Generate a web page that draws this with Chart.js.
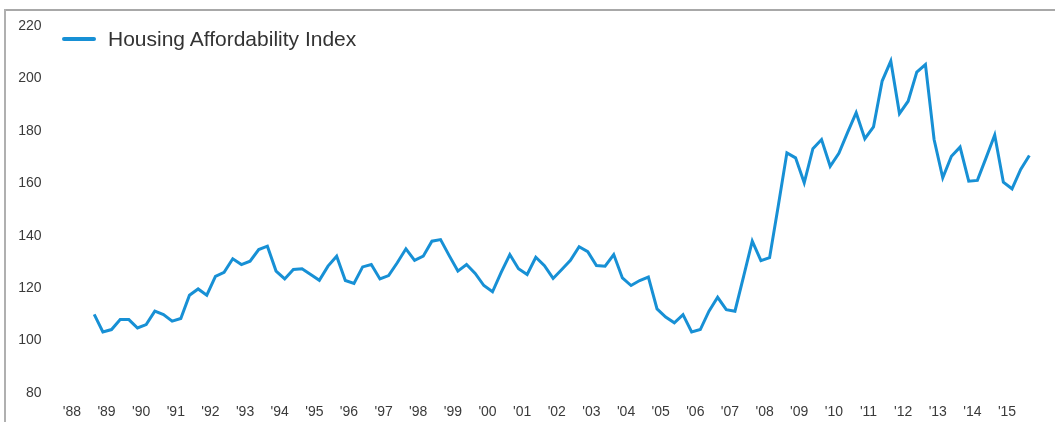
<!DOCTYPE html>
<html>
<head>
<meta charset="utf-8">
<script src="https://cdn.jsdelivr.net/npm/chart.js@4"></script>
<style>
    body { margin: 0; background: #fff; }
    #wrap { position: relative; width: 1055px; height: 422px; overflow: hidden; }
    #chart { position: absolute; left: 0; top: 0; }
    .frameTop { position: absolute; left: 5px; top: 9px; right: 0; height: 2px; background: #a8a8a8; }
    .frameLeft { position: absolute; left: 4px; top: 9px; bottom: 0; width: 2px; background: #b0b0b0; }
    #legend { position: absolute; left: 62px; top: 27px; display: flex; align-items: center;
              font-family: "Liberation Sans", Arial, sans-serif; font-size: 21px; color: #333; }
    #legend .swatch { width: 34px; height: 4px; border-radius: 2px; margin-right: 12px; }
</style>
</head>
<body>
<div id="wrap">
    <canvas id="chart" width="1055" height="422"></canvas>
    <div class="frameTop"></div>
    <div class="frameLeft"></div>
    <div id="legend"></div>
</div>
<script>
// tick labels on the x axis, one per year (1988 - 2015)
const yearLabels = ["'88", "'89", "'90", "'91", "'92", "'93", "'94", "'95", "'96", "'97",
    "'98", "'99", "'00", "'01", "'02", "'03", "'04", "'05", "'06", "'07",
    "'08", "'09", "'10", "'11", "'12", "'13", "'14", "'15"];

// quarterly index, 1988 Q3 .. 2015 Q3
const affordIndex = [
    110, 103.3,
    104.2, 108, 108, 104.8,
    106.1, 111.2, 109.9, 107.4,
    108.4, 117.3, 119.7, 117.3,
    124.5, 126, 131.2, 129,
    130.3, 134.7, 136, 126.5,
    123.5, 127.1, 127.4, 125.2,
    123, 128.4, 132.2, 122.9,
    121.8, 128.1, 129, 123.5,
    124.8, 129.7, 135, 130.6,
    132.2, 137.9, 138.5, 132.4,
    126.5, 129, 125.6, 121,
    118.6, 126, 132.8, 127.4,
    125.2, 131.8, 128.6, 123.7,
    127.1, 130.6, 135.8, 133.9,
    128.6, 128.4, 132.8, 123.9,
    121, 122.9, 124.2, 112.1,
    109, 106.8, 109.9, 103.3,
    104.2, 111.2, 116.5, 111.8,
    111.2, 124.5, 137.9, 130.5,
    131.6, 151.3, 171.6, 169.7,
    160.2, 173.2, 176.7, 166.5,
    171.4, 179.3, 186.9, 177,
    181.5, 199, 206.6, 186.6,
    191.3, 202.4, 205.3, 176.7,
    162.1, 170.3, 173.8, 160.8,
    161.1, 169.7, 178.4, 160.4,
    157.9, 165.3, 170.6
];

const yTicks = [80, 100, 120, 140, 160, 180, 200, 220];
const seriesName = 'Housing Affordability Index';
const lineColor = '#1790d5';
const firstQuarter = 2; // series begins at the 3rd quarter of '88

// x is counted in quarters from Q1 '88, year labels sit on every Q1
const points = affordIndex.map((v, i) => ({ x: firstQuarter + i, y: v }));
const yearTickPos = yearLabels.map((_, i) => i * 4);

document.getElementById('legend').innerHTML =
    `<span class="swatch" style="background:${lineColor}"></span><span>${seriesName}</span>`;

new Chart(document.getElementById('chart'), {
    type: 'line',
    data: {
        datasets: [{
            label: seriesName,
            data: points,
            borderColor: lineColor,
            borderWidth: 3,
            pointRadius: 0,
            tension: 0,
            fill: false
        }]
    },
    options: {
        responsive: false,
        animation: false,
        layout: { padding: { top: 26, right: 17, left: 0, bottom: 0 } },
        plugins: { legend: { display: false }, tooltip: { enabled: false } },
        scales: {
            x: {
                type: 'linear',
                min: -3.8,
                max: 111,
                grid: { display: false, drawTicks: false },
                border: { display: false },
                afterFit: s => { s.height = 29; },
                afterBuildTicks: s => { s.ticks = yearTickPos.map(v => ({ value: v })); },
                ticks: {
                    maxRotation: 0,
                    padding: 11,
                    labelOffset: -5,
                    color: '#3a3a3a',
                    font: { family: 'Liberation Sans', size: 14 },
                    callback: v => yearLabels[v / 4]
                }
            },
            y: {
                min: 80,
                max: 220,
                grid: { display: false, drawTicks: false },
                border: { display: false },
                afterFit: s => { s.width = 44; },
                afterBuildTicks: s => { s.ticks = yTicks.map(v => ({ value: v })); },
                ticks: {
                    padding: 2.5,
                    color: '#3a3a3a',
                    font: { family: 'Liberation Sans', size: 14 }
                }
            }
        }
    }
});
</script>
</body>
</html>
